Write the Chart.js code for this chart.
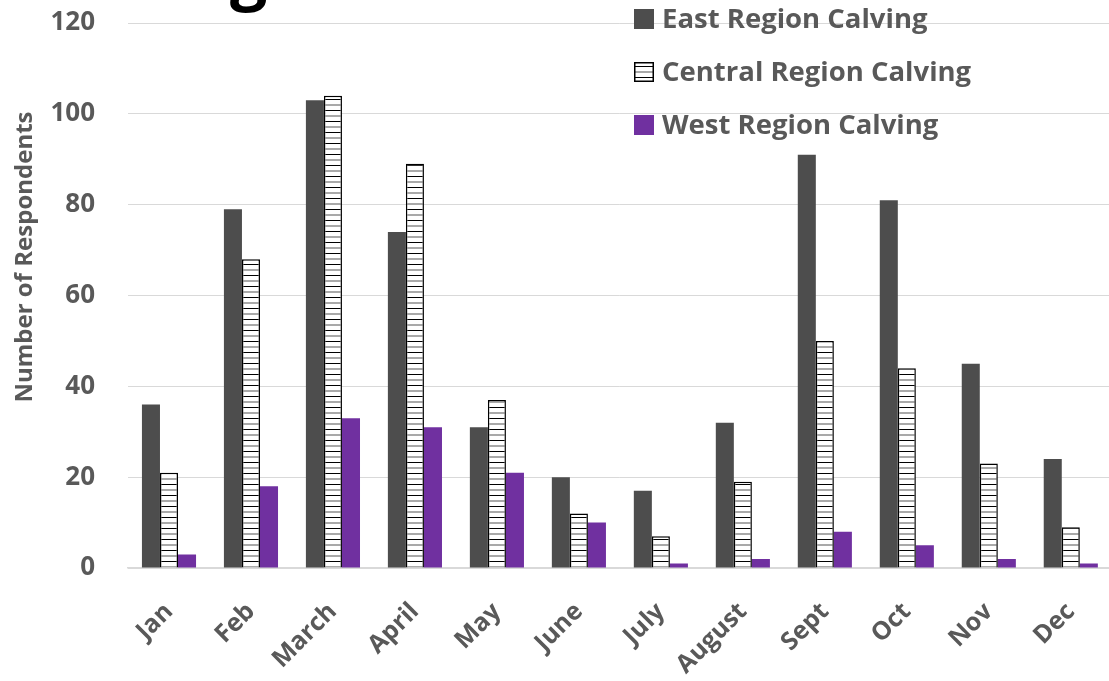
<!DOCTYPE html>
<html>
<head>
<meta charset="utf-8">
<script src="https://cdn.jsdelivr.net/npm/chart.js@4.4.0/dist/chart.umd.min.js"></script>
<style>
  html, body { margin: 0; padding: 0; background: #fff; overflow: hidden; }
  #wrap { position: relative; width: 1121px; height: 681px; }
</style>
</head>
<body>
<div id="wrap"><canvas id="calvingChart"></canvas></div>
<script>
const months = ["Jan", "Feb", "March", "April", "May", "June", "July", "August", "Sept", "Oct", "Nov", "Dec"];
const eastCalving = [36, 79, 103, 74, 31, 20, 17, 32, 91, 81, 45, 24];
const centralCalving = [21, 68, 104, 89, 37, 12, 7, 19, 50, 44, 23, 9];
const westCalving = [3, 18, 33, 31, 21, 10, 1, 2, 8, 5, 2, 1];
const seriesNames = ["East Region Calving", "Central Region Calving", "West Region Calving"];
const yMax = 120;
const yStep = 20;

const grey = "#595959";
const fontFamily = "'Open Sans', sans-serif";

// horizontal-line fill for the central series
function stripes() {
  const p = document.createElement("canvas");
  p.width = 8;
  p.height = 11;
  const pc = p.getContext("2d");
  pc.fillStyle = "#fff";
  pc.fillRect(0, 0, 8, 11);
  pc.fillStyle = "#000";
  pc.fillRect(0, 0, 8, 1);
  pc.fillStyle = "#555";
  pc.fillRect(0, 5.5, 8, 1);
  return document.getElementById("calvingChart").getContext("2d").createPattern(p, "repeat");
}

const extras = {
  id: "extras",
  afterDraw(chart) {
    const c = chart.ctx;
    // bit of the title that is cut off at the top
    c.save();
    c.fillStyle = "#000";
    c.font = "bold 66px " + fontFamily;
    c.textAlign = "left";
    c.textBaseline = "alphabetic";
    c.fillText("g", 230, -3);
    c.restore();

    // y axis title
    c.save();
    c.translate(25, 257);
    c.rotate(-Math.PI / 2);
    c.fillStyle = grey;
    c.font = "bold 24px " + fontFamily;
    c.textAlign = "center";
    c.textBaseline = "middle";
    c.fillText("Number of Respondents", 0, 0);
    c.restore();

    // legend
    c.save();
    chart.data.datasets.forEach((ds, i) => {
      const y = 19 + i * 53;
      c.fillStyle = ds.backgroundColor;
      c.fillRect(634, y - 10, 20, 20);
      if (ds.borderWidth) {
        c.strokeStyle = "#000";
        c.lineWidth = 1.5;
        c.strokeRect(634.75, y - 9.25, 18.5, 18.5);
      }
      c.fillStyle = grey;
      c.font = "bold 27.5px " + fontFamily;
      c.textAlign = "left";
      c.textBaseline = "middle";
      c.fillText(ds.label, 662, y + 1);
    });
    c.restore();
  }
};

const ctx = document.getElementById("calvingChart").getContext("2d");
const myChart = new Chart(ctx, {
  type: "bar",
  data: {
    labels: months,
    datasets: [
      { label: seriesNames[0], data: eastCalving, backgroundColor: "#4d4d4d", borderWidth: 0 },
      { label: seriesNames[1], data: centralCalving, backgroundColor: stripes(), borderColor: "#000", borderWidth: 1.5 },
      { label: seriesNames[2], data: westCalving, backgroundColor: "#7030a0", borderWidth: 0 }
    ]
  },
  options: {
    responsive: true,
    maintainAspectRatio: false,
    animation: false,
    layout: { padding: { top: 23, left: 0, right: 0, bottom: 0 } },
    datasets: { bar: { categoryPercentage: 0.66, barPercentage: 1 } },
    plugins: {
      legend: { display: false },
      tooltip: { enabled: false }
    },
    scales: {
      x: {
        grid: { display: false, drawTicks: false },
        border: { color: "#d9d9d9", width: 1.5 },
        ticks: {
          color: grey,
          font: { family: fontFamily, size: 25, weight: "bold" },
          minRotation: 45,
          maxRotation: 45,
          autoSkip: false,
          padding: 29
        },
        afterFit: s => { s.height = 113; }
      },
      y: {
        min: 0,
        max: yMax,
        grid: { color: "#d9d9d9", lineWidth: 1, drawTicks: false },
        border: { display: false },
        ticks: { stepSize: yStep, color: grey, font: { family: fontFamily, size: 26, weight: "bold" }, padding: 33 },
        afterFit: s => { s.width = 128; s.paddingTop = 0; s.paddingBottom = 0; }
      }
    }
  },
  plugins: [extras]
});
</script>
</body>
</html>
